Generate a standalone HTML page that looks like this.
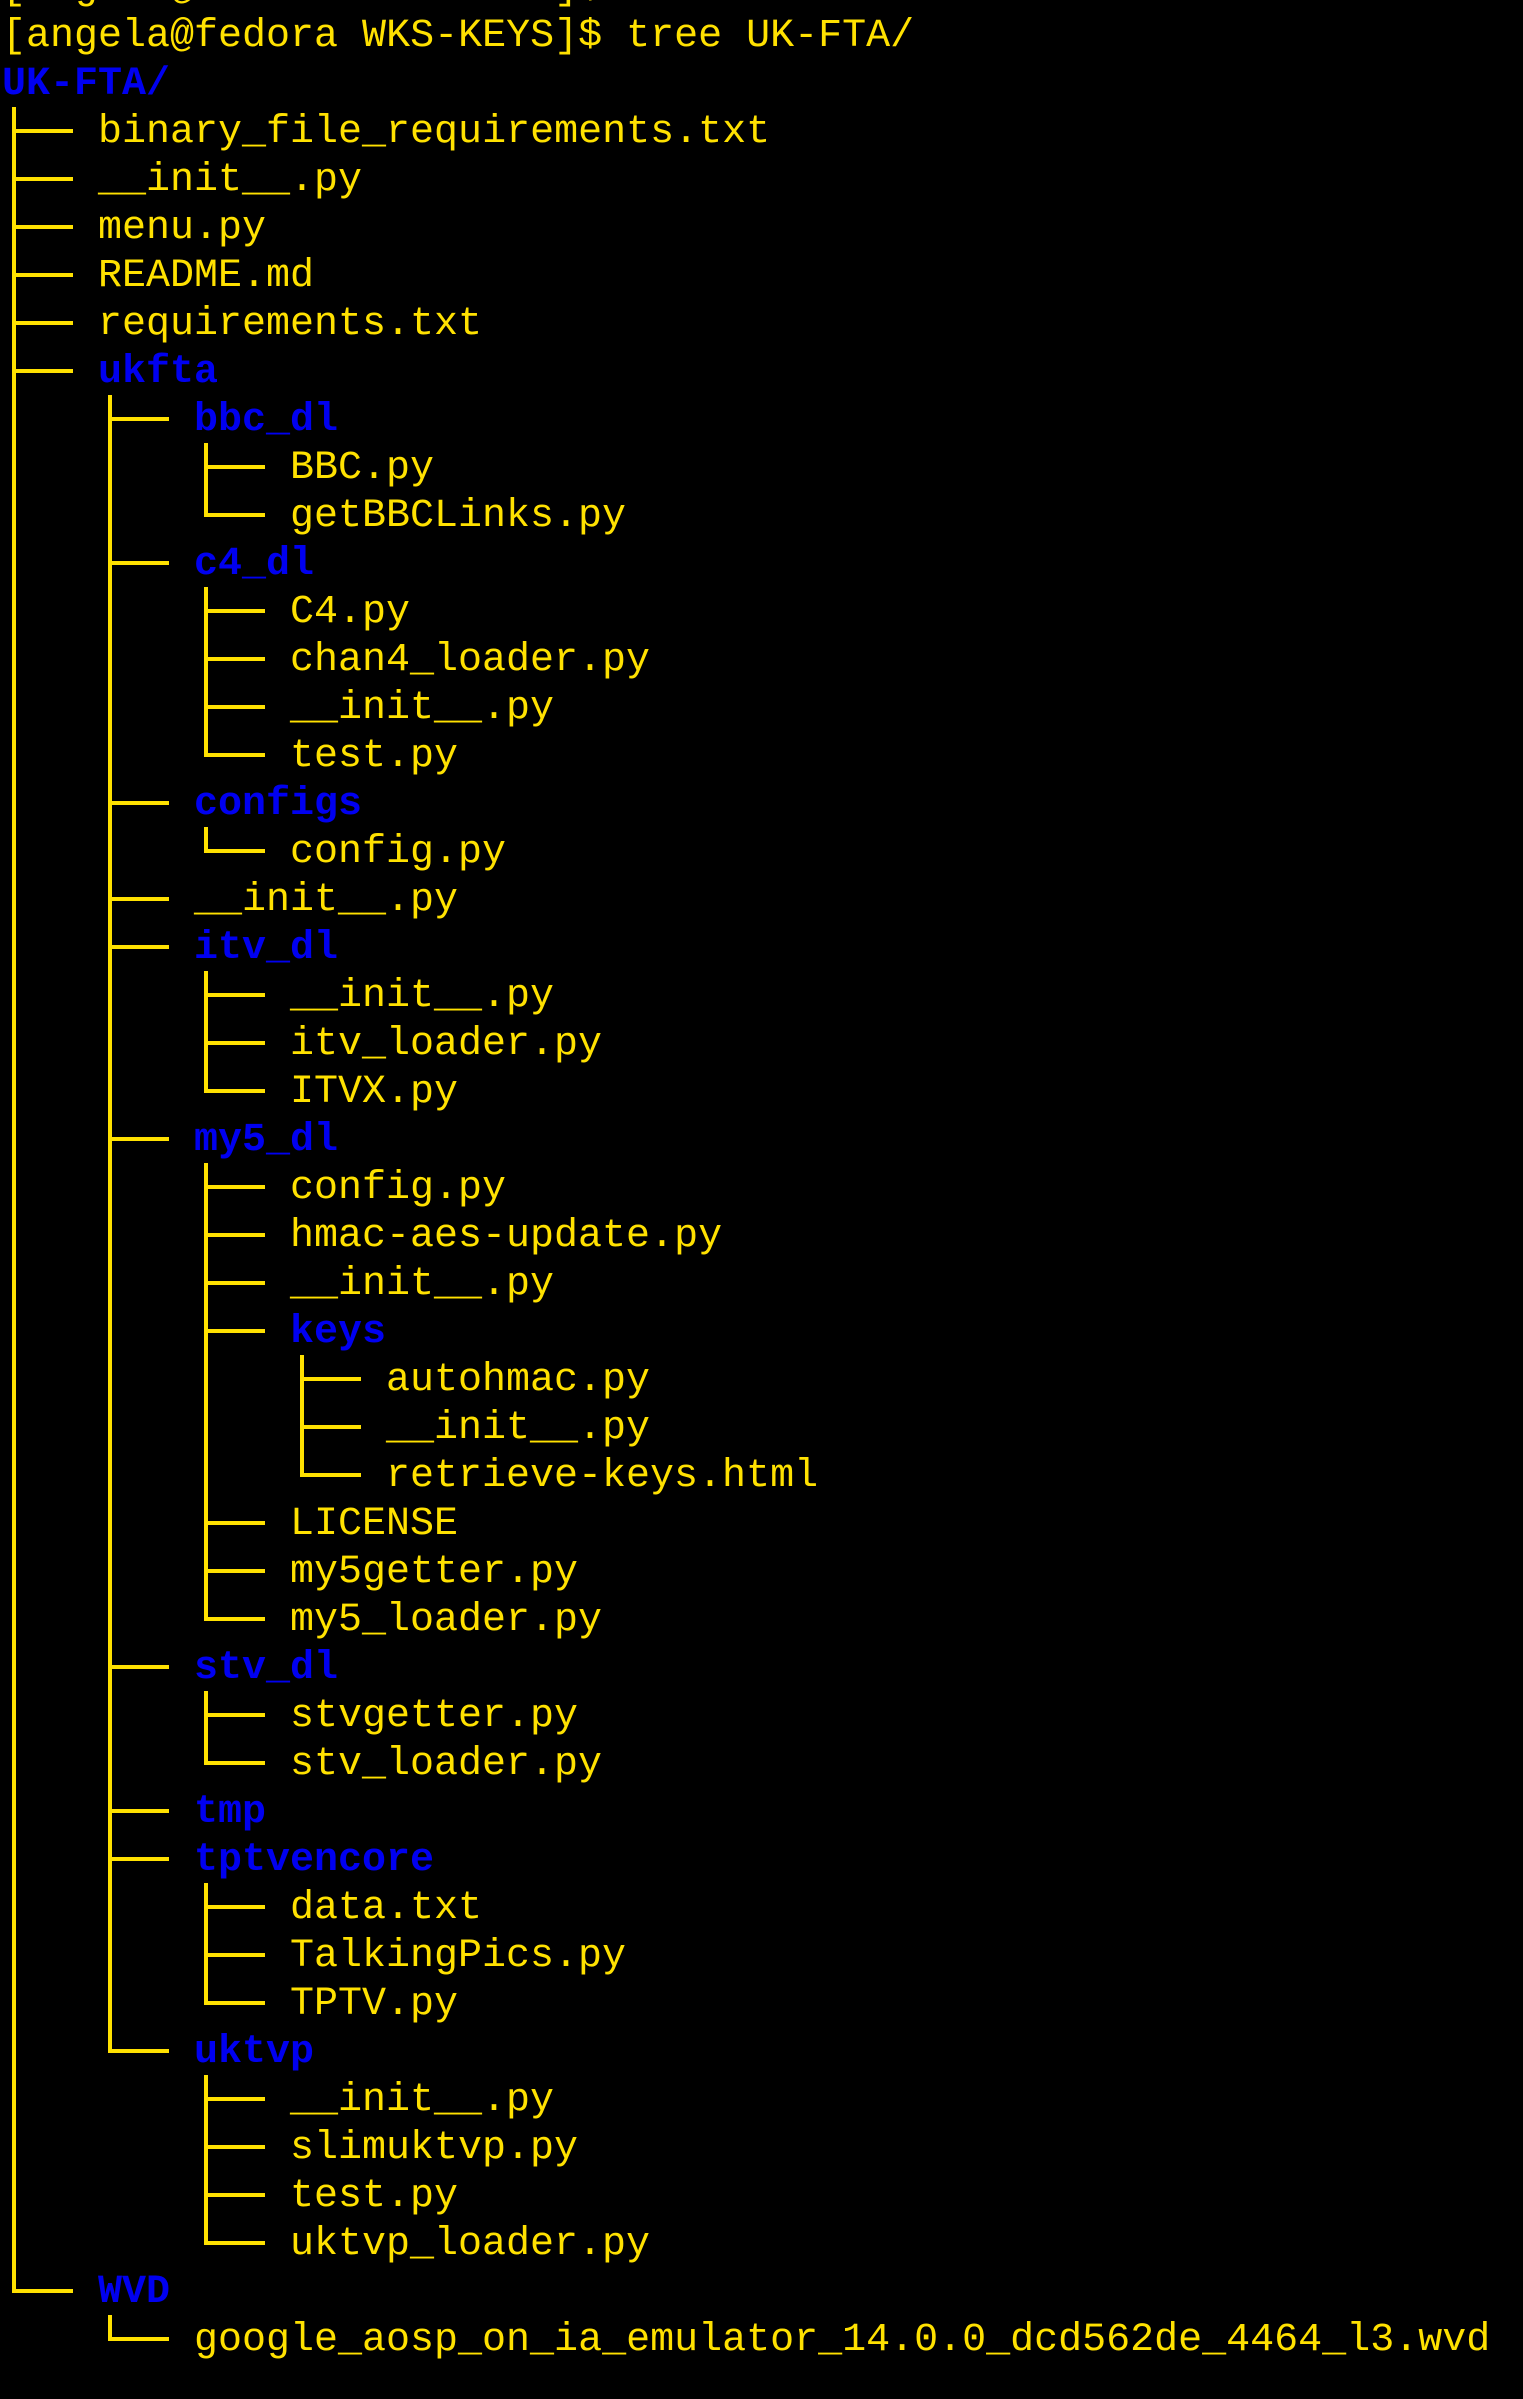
<!DOCTYPE html>
<html><head><meta charset="utf-8">
<style>
html,body{margin:0;padding:0;background:#000;width:1523px;height:2399px;overflow:hidden}
#t{position:absolute;left:0;top:0;width:1523px;height:2399px}
.r{position:absolute;height:48px;line-height:48px;font-family:"Liberation Mono",monospace;font-size:40px;color:#FFE100;white-space:pre}
.b{color:#0000F0;font-weight:bold}
svg{position:absolute;left:0;top:0}
</style></head><body>
<div id="t"></div>
<svg id="s" width="1523" height="2399"></svg>
<script>
var rows=[
[-1,"[angela@fedora WKS-KEYS]$ ls",0,0],
[-1,"[angela@fedora WKS-KEYS]$ tree UK-FTA/",0,0],
[-1,"UK-FTA/",1,0],
[0,"binary_file_requirements.txt"],[0,"__init__.py"],[0,"menu.py"],[0,"README.md"],[0,"requirements.txt"],
[0,"ukfta",1],
[1,"bbc_dl",1],[2,"BBC.py"],[2,"getBBCLinks.py"],
[1,"c4_dl",1],[2,"C4.py"],[2,"chan4_loader.py"],[2,"__init__.py"],[2,"test.py"],
[1,"configs",1],[2,"config.py"],
[1,"__init__.py"],
[1,"itv_dl",1],[2,"__init__.py"],[2,"itv_loader.py"],[2,"ITVX.py"],
[1,"my5_dl",1],[2,"config.py"],[2,"hmac-aes-update.py"],[2,"__init__.py"],[2,"keys",1],
[3,"autohmac.py"],[3,"__init__.py"],[3,"retrieve-keys.html"],
[2,"LICENSE"],[2,"my5getter.py"],[2,"my5_loader.py"],
[1,"stv_dl",1],[2,"stvgetter.py"],[2,"stv_loader.py"],
[1,"tmp",1],
[1,"tptvencore",1],[2,"data.txt"],[2,"TalkingPics.py"],[2,"TPTV.py"],
[1,"uktvp",1],[2,"__init__.py"],[2,"slimuktvp.py"],[2,"test.py"],[2,"uktvp_loader.py"],
[0,"WVD",1],
[1,"google_aosp_on_ia_emulator_14.0.0_dcd562de_4464_l3.wvd"]
];
var t=document.getElementById('t'),s=document.getElementById('s');
var lines='';
function yc(i){return 33+48*i;}
var n=rows.length;
for(var k=0;k<n;k++){
  var i=k-1,r=rows[k],d=r[0];
  var x=d<0?2:98+96*d;
  var e=document.createElement('div');
  e.className='r'+(r[2]?' b':'');
  e.style.left=x+'px';e.style.top=(yc(i)-20)+'px';
  e.textContent=r[1];
  t.appendChild(e);
  if(d>=0){
    var hx=14+96*d,y=yc(i)+2;
    lines+='<line x1="'+(hx-2)+'" y1="'+y+'" x2="'+(73+96*d)+'" y2="'+y+'"/>';
  }
}
for(var k=2;k<n;k++){
  var d=rows[k][0];
  var first=-1,last=-1;
  for(var j=k+1;j<n;j++){
    if(rows[j][0]<=d)break;
    if(rows[j][0]==d+1){if(first<0)first=j;last=j;}
  }
  if(first>0){
    var x=14+96*(d+1);
    lines+='<line x1="'+x+'" y1="'+(yc(first-1)-22)+'" x2="'+x+'" y2="'+(yc(last-1)+4)+'"/>';
  }
}
s.innerHTML='<g stroke="#FFE100" stroke-width="4" fill="none">'+lines+'</g>';
</script>
</body></html>
